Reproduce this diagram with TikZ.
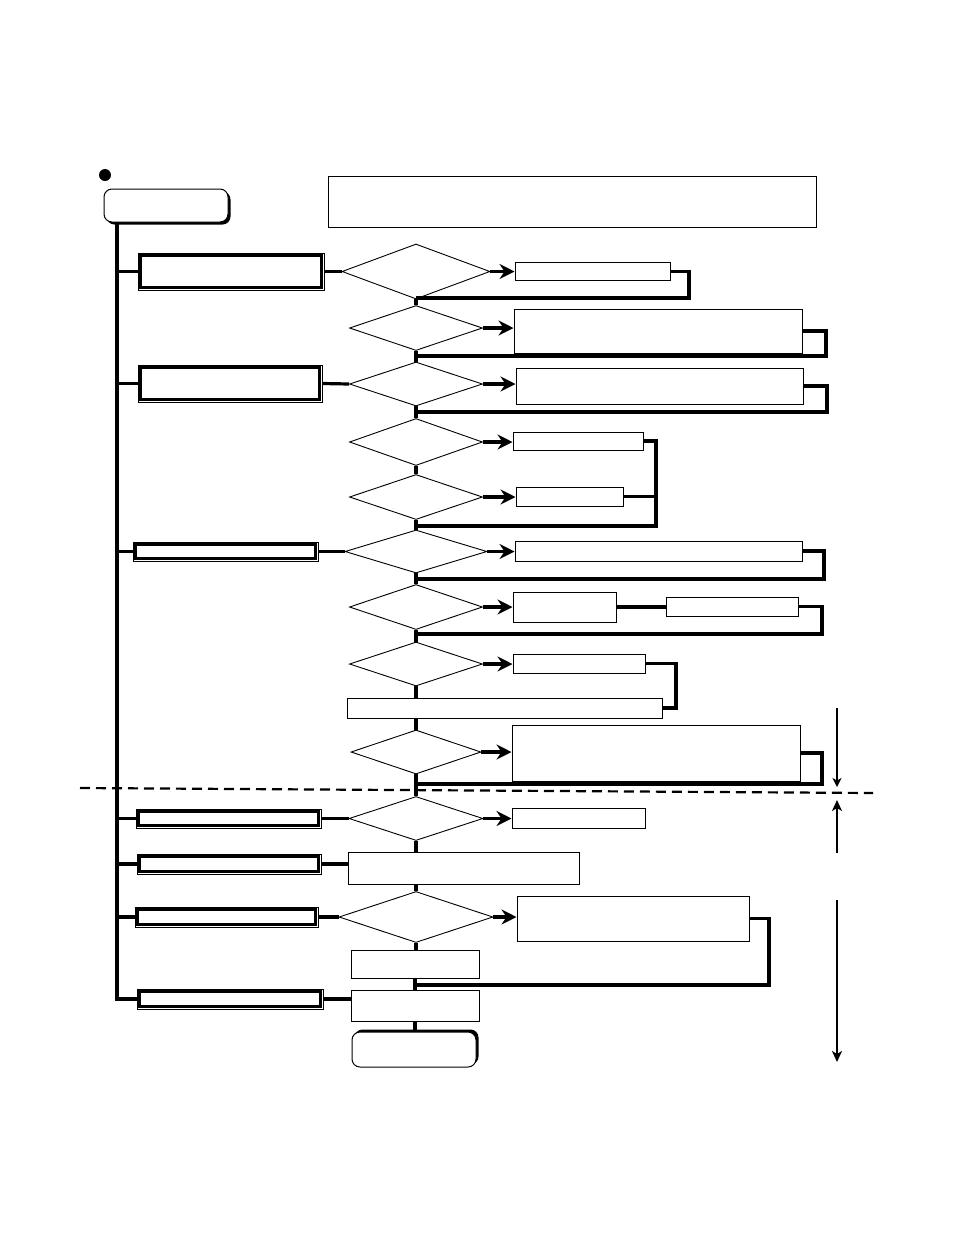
\documentclass[tikz,border=0pt]{standalone}
\usetikzlibrary{shapes.geometric,arrows.meta}
\tikzset{
 box/.style={draw, line width=1pt, fill=white, inner sep=0pt},
 bx/.style 2 args={minimum width=#1pt, minimum height=#2pt},
 dia/.style={draw, diamond, line width=0.9pt, fill=white, inner sep=0pt},
 conn/.style={line width=3.2pt},
 arr/.style={line width=3.2pt, -{Stealth[length=15pt,width=15pt,inset=5pt]}},
 thinarr/.style={line width=1.3pt, -{Stealth[length=9pt,width=9pt,inset=2.5pt]}},
 midarr/.style={line width=2.2pt, -{Stealth[length=11pt,width=10pt,inset=3pt]}},
 dashsep/.style={line width=2.2pt, dash pattern=on 10pt off 6pt},
}
\newcommand\dblbox[5]{%
 \node[box,bx={#4}{#5}] (#1) at (#2,#3) {};
 \draw[line width=2.2pt] ([shift={(3,3)}]#1.north west) rectangle ([shift={(-3,-3)}]#1.south east);}
\begin{document}
\begin{tikzpicture}[x=1pt,y=-1pt]
\useasboundingbox (0,0) rectangle (954,1235);
% start
\fill (105,175) circle (6);
\fill[rounded corners=8] (106.5,191.5) rectangle (230.5,224.5);
\node[box,rounded corners=8,bx={124}{33}] (S) at (166,205.5) {};
% note
\node[box,bx={488}{51}] (N) at (572,201.5) {};
% main left line
\coordinate (Mtop) at (117,222);
% left double boxes
\dblbox{L1}{231}{271.5}{186}{37}
\dblbox{L2}{230}{383.5}{184}{37}
\dblbox{L3}{225.5}{551.5}{185}{19}
\dblbox{L4}{228.5}{818.5}{185}{19}
\dblbox{L5}{229}{864}{184}{20}
\dblbox{L6}{226.5}{917}{183}{20}
\dblbox{L7}{230}{999}{186}{20}
% diamonds
\node[dia,minimum width=148pt,minimum height=55pt] (D1) at (416,271.5) {};
\node[dia,minimum width=133pt,minimum height=45pt] (D2) at (416,328) {};
\node[dia,minimum width=133pt,minimum height=44pt] (D3) at (416,384) {};
\node[dia,minimum width=133pt,minimum height=47pt] (D4) at (416,442) {};
\node[dia,minimum width=133pt,minimum height=45pt] (D5) at (416,497) {};
\node[dia,minimum width=142pt,minimum height=43pt] (D6) at (416,551.5) {};
\node[dia,minimum width=133pt,minimum height=45pt] (D7) at (416,607) {};
\node[dia,minimum width=133pt,minimum height=44pt] (D8) at (416,664) {};
\node[dia,minimum width=130pt,minimum height=44pt] (D9) at (416,752) {};
\node[dia,minimum width=134pt,minimum height=44pt] (D10) at (416,818.5) {};
\node[dia,minimum width=154pt,minimum height=51pt] (D12) at (416,917) {};
% center boxes
\node[box,bx={315}{20}] (W8) at (504.5,708) {};
\node[box,bx={231}{32}] (C11) at (463.5,868) {};
\node[box,bx={128}{28}] (C13) at (415,964) {};
\node[box,bx={128}{31}] (C14) at (415,1005.5) {};
\fill[rounded corners=8] (354.5,1029.5) rectangle (478.5,1064.5);
\node[box,rounded corners=8,bx={124}{35}] (E) at (414,1049.5) {};
% right boxes
\node[box,bx={155}{18}] (R1) at (592.5,271.5) {};
\node[box,bx={288}{44}] (R2) at (658,331) {};
\node[box,bx={287}{36}] (R3) at (659.5,386) {};
\node[box,bx={130}{18}] (R4) at (578,441) {};
\node[box,bx={107}{19}] (R5) at (569.5,496.5) {};
\node[box,bx={287}{20}] (R6) at (658.5,551) {};
\node[box,bx={103}{30}] (R7) at (564.5,607) {};
\node[box,bx={132}{19}] (R7b) at (732,606.5) {};
\node[box,bx={132}{19}] (R8) at (579,663.5) {};
\node[box,bx={288}{56}] (R9) at (656,753) {};
\node[box,bx={133}{20}] (R10) at (578.5,818) {};
\node[box,bx={232}{45}] (R12) at (633,918.5) {};
% main left trunk and branches
\draw[conn] (Mtop) |- (L7.west);
\foreach \n in {L1,L2,L3,L4,L5,L6} \draw[conn] (\n.west -| Mtop) -- (\n.west);
% left boxes to center
\draw[conn] (L1.east) -- (D1.west);
\draw[conn] (L2.east) -- (D3.west);
\draw[conn] (L3.east) -- (D6.west);
\draw[conn] (L4.east) -- (D10.west);
\draw[conn] (L5.east) -- (L5.east -| C11.west);
\draw[conn] (L6.east) -- (D12.west);
\draw[conn] (L7.east) -- (L7.east -| C14.west);
% center chain
\draw[conn] (D1.south) -- (D2.north);
\draw[conn] (D2.south) -- (D3.north);
\draw[conn] (D3.south) -- (D4.north);
\draw[conn] (D4.south) -- (D5.north);
\draw[conn] (D5.south) -- (D6.north);
\draw[conn] (D6.south) -- (D7.north);
\draw[conn] (D7.south) -- (D8.north);
\draw[conn] (D8.south) -- (D8.south |- W8.north);
\draw[conn] (D9.north |- W8.south) -- (D9.north);
\draw[conn] (D9.south) -- (D10.north);
\draw[conn] (D10.south) -- (D10.south |- C11.north);
\draw[conn] (D12.north |- C11.south) -- (D12.north);
\draw[conn] (D12.south) -- (D12.south |- C13.north);
\draw[conn] (C13.south) -- (C14.north);
\draw[conn] (C14.south) -- (C14.south |- E.north);
% arrows to the right
\draw[arr] (D1.east) -- (D1.east -| R1.west);
\draw[arr] (D2.east) -- (D2.east -| R2.west);
\draw[arr] (D3.east) -- (D3.east -| R3.west);
\draw[arr] (D4.east) -- (D4.east -| R4.west);
\draw[arr] (D5.east) -- (D5.east -| R5.west);
\draw[arr] (D6.east) -- (D6.east -| R6.west);
\draw[arr] (D7.east) -- (D7.east -| R7.west);
\draw[arr] (D8.east) -- (D8.east -| R8.west);
\draw[arr] (D9.east) -- (D9.east -| R9.west);
\draw[arr] (D10.east) -- (D10.east -| R10.west);
\draw[arr] (D12.east) -- (D12.east -| R12.west);
\draw[conn] (R7.east) -- (R7.east -| R7b.west);
% return loops
\coordinate (K1) at (689,298);  \coordinate (J1) at (416,298);
\coordinate (K2) at (826,356);  \coordinate (J2) at (416,356);
\coordinate (K3) at (827,412);  \coordinate (J3) at (416,412);
\coordinate (K4) at (656,526);  \coordinate (J4) at (416,526);
\coordinate (K6) at (824,579);  \coordinate (J6) at (416,579);
\coordinate (K7) at (822,634);  \coordinate (J7) at (416,634);
\coordinate (K8) at (676,708);
\coordinate (K9) at (822,784);  \coordinate (J9) at (416,784);
\coordinate (K12) at (769,985); \coordinate (J12) at (416,985);
\draw[conn] (R1.east) -| (K1) -- (J1);
\draw[conn] (R2.east) -| (K2) -- (J2);
\draw[conn] (R3.east) -| (K3) -- (J3);
\draw[conn] (R4.east) -| (K4) -- (J4);
\draw[conn] (R5.east) -- (R5.east -| K4);
\draw[conn] (R6.east) -| (K6) -- (J6);
\draw[conn] (R7b.east) -| (K7) -- (J7);
\draw[conn] (R8.east) -| (K8) -- (W8.east);
\draw[conn] (R9.east) -| (K9) -- (J9);
\draw[conn] (R12.east) -| (K12) -- (J12);
% dashed separator
\coordinate (DL) at (80,788); \coordinate (DR) at (873,793);
\draw[dashsep] (DL) -- (DR);
% side arrows
\coordinate (A1) at (837,708); \coordinate (A2) at (837,787);
\coordinate (A3) at (837,853); \coordinate (A4) at (837,800);
\coordinate (A5) at (837,900); \coordinate (A6) at (837,1062);
\draw[thinarr] (A1) -- (A2);
\draw[midarr] (A3) -- (A4);
\draw[midarr] (A5) -- (A6);
\end{tikzpicture}
\end{document}
